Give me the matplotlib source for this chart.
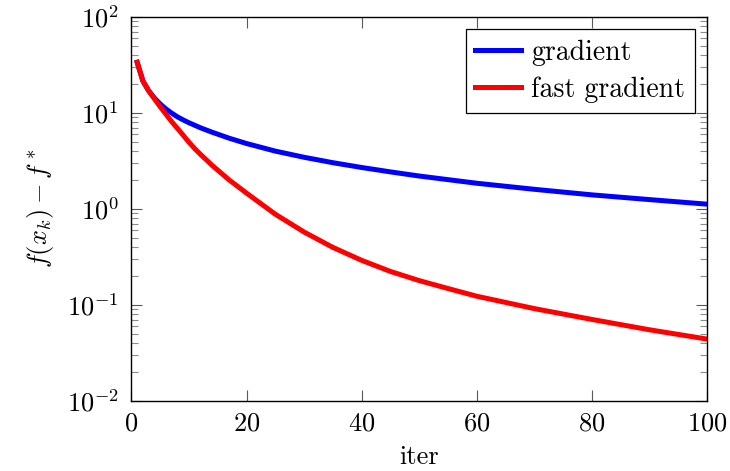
import matplotlib
matplotlib.use("Agg")
import matplotlib.pyplot as plt
from matplotlib.ticker import LogLocator, NullFormatter

# values
iters_grad = [1, 2, 3, 4, 5, 6, 7, 8, 9, 10, 12, 14, 17, 20, 25, 30, 35, 40, 45, 50, 60, 70,
              80, 90, 100]
grad = [33.7, 21.5, 17.0, 14.3, 12.4, 11.0, 9.95, 9.1, 8.45, 7.9, 7.0, 6.3, 5.45, 4.8, 4.0,
        3.45, 3.03, 2.7, 2.43, 2.2, 1.85, 1.6, 1.4, 1.25, 1.12]

iters_fast = [1, 2, 3, 4, 5, 6, 7, 8, 9, 10, 11, 12, 13, 14, 17, 20, 25, 30, 35, 40, 45, 50,
              55, 60, 70, 80, 90, 100]
fast = [33.7, 21.5, 17.0, 14.0, 11.6, 9.7, 8.1, 6.9, 5.85, 4.95, 4.25, 3.7, 3.25, 2.85, 2.0,
        1.46, 0.88, 0.574, 0.397, 0.291, 0.223, 0.179, 0.148, 0.123, 0.0914, 0.0705, 0.055,
        0.044]

plt.rcParams["font.family"] = "cmr10"
plt.rcParams["mathtext.fontset"] = "cm"
plt.rcParams["axes.formatter.use_mathtext"] = True

fs = 19

fig = plt.figure(figsize=(7.3, 4.71), dpi=100)
ax = fig.add_axes([0.180, 0.149, 0.7885, 0.815])

ax.plot(iters_grad, grad, color=(0, 0, 1), lw=3.6, label="gradient", solid_joinstyle="round")
ax.plot(iters_fast, fast, color=(1, 0, 0), lw=3.6, label="fast gradient", solid_joinstyle="round")

ax.set_yscale("log")
ax.set_xlim(0, 100)
ax.set_ylim(1e-2, 1e2)
ax.set_xticks([0, 20, 40, 60, 80, 100])
ax.yaxis.set_major_locator(LogLocator(base=10, numticks=10))
ax.yaxis.set_minor_locator(LogLocator(base=10, subs=range(2, 10), numticks=10))
ax.yaxis.set_minor_formatter(NullFormatter())

ax.tick_params(which="both", direction="in", top=True, right=True, labelsize=fs)
ax.tick_params(which="major", length=8, width=0.8, color="0.35")
ax.tick_params(which="minor", length=4.8, width=0.8, color="0.55")
ax.tick_params(axis="x", pad=8)
ax.tick_params(axis="y", pad=9)

for s in ax.spines.values():
    s.set_linewidth(1.0)

ax.set_xlabel("iter", fontsize=fs, labelpad=7)
ax.set_ylabel(r"$f(x_k) - f^*$", fontsize=fs, labelpad=8)

leg = ax.legend(loc="upper right", fontsize=20, fancybox=False, edgecolor="black",
                framealpha=1, handlelength=1.65, handletextpad=0.35, labelspacing=0.4,
                borderaxespad=0.45, borderpad=0.35)
leg.get_frame().set_linewidth(0.9)

fig.savefig("out.png", dpi=100)
